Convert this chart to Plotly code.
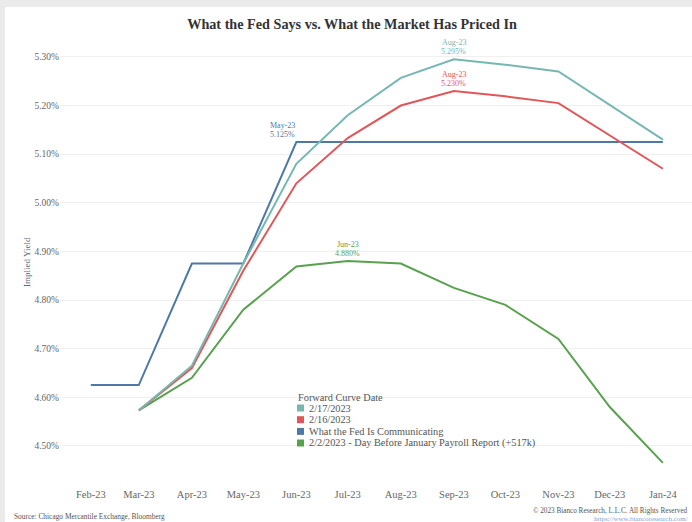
import plotly.graph_objects as go

# ---------------- data ----------------
months = ["2023-02-01", "2023-03-01", "2023-04-01", "2023-05-01", "2023-06-01", "2023-07-01",
          "2023-08-01", "2023-09-01", "2023-10-01", "2023-11-01", "2023-12-01", "2024-01-01"]
tick_labels = ["Feb-23", "Mar-23", "Apr-23", "May-23", "Jun-23", "Jul-23",
               "Aug-23", "Sep-23", "Oct-23", "Nov-23", "Dec-23", "Jan-24"]

fed_x = months
fed_y = [4.625, 4.625, 4.875, 4.875, 5.125, 5.125, 5.125, 5.125, 5.125, 5.125, 5.125, 5.125]

feb17_x = ["2023-03-01", "2023-04-01", "2023-05-01", "2023-06-01", "2023-07-01",
           "2023-08-01", "2023-09-01", "2023-10-01", "2023-11-01", "2024-01-01"]
feb17_y = [4.573, 4.665, 4.875, 5.080, 5.180, 5.257, 5.295, 5.284, 5.270, 5.130]

feb16_x = feb17_x
feb16_y = [4.573, 4.660, 4.860, 5.040, 5.133, 5.200, 5.230, 5.219, 5.205, 5.070]

feb2_x = months[1:]
feb2_y = [4.573, 4.640, 4.780, 4.869, 4.880, 4.875, 4.825, 4.790, 4.720, 4.580, 4.465]

series_names = ["2/17/2023", "2/16/2023", "What the Fed Is Communicating",
                "2/2/2023 - Day Before January Payroll Report (+517k)"]
colors = ["#76b7b2", "#e15759", "#4e79a7", "#59a14f"]

# point labels: (series index, x, y, month label)
point_labels = [
    (0, "2023-09-01", 5.295, "Aug-23"),
    (1, "2023-09-01", 5.230, "Aug-23"),
    (2, "2023-06-01", 5.125, "May-23"),
    (3, "2023-07-01", 4.880, "Jun-23"),
]

# ---------------- layout helpers ----------------
W, H = 692, 522
L, R, T, B = 60, 0, 45, 36
PW, PH = W - L - R, H - T - B


def px_x(px):
    return (px - L) / PW


def px_y(py):
    return (H - B - py) / PH


FONT = "Liberation Serif, Georgia, serif"

fig = go.Figure()
series = [(feb17_x, feb17_y), (feb16_x, feb16_y), (fed_x, fed_y), (feb2_x, feb2_y)]
draw_order = [2, 3, 1, 0]
for i in draw_order:
    xs, ys = series[i]
    fig.add_trace(go.Scatter(x=xs, y=ys, mode="lines", name=series_names[i],
                             line=dict(color=colors[i], width=2), showlegend=False))

annotations = []
for si, x, y, lab in point_labels:
    anchor = "right" if si == 2 else "center"
    xs = 1 if si == 2 else 0
    for txt, shift in ((lab, 16.5), (f"{y:.3f}%", 7.5)):
        annotations.append(dict(x=x, y=y, xref="x", yref="y", text=txt,
                                showarrow=False, xanchor=anchor, yanchor="middle", yshift=shift,
                                xshift=xs, font=dict(family=FONT, size=8, color=colors[si])))

# legend built by hand
annotations.append(dict(x=px_x(296), y=px_y(397), xref="paper", yref="paper",
                        text="Forward Curve Date", showarrow=False, xanchor="left",
                        yanchor="middle", font=dict(family=FONT, size=10.3, color="#555")))
shapes = []
row_y = [408, 419.7, 431.4, 443]
for k in range(4):
    annotations.append(dict(x=px_x(306.5), y=px_y(row_y[k]), xref="paper", yref="paper",
                            text=series_names[k], showarrow=False, xanchor="left",
                            yanchor="middle", font=dict(family=FONT, size=10.3, color="#555")))
    shapes.append(dict(type="rect", xref="paper", yref="paper",
                       x0=px_x(297), x1=px_x(304), y0=px_y(row_y[k] + 3.5), y1=px_y(row_y[k] - 3.5),
                       fillcolor=colors[k], line=dict(width=0)))

# y axis title
annotations.append(dict(x=px_x(20), y=px_y(262), xref="paper", yref="paper", text="Implied Yield",
                        showarrow=False, textangle=-90, font=dict(family=FONT, size=9, color="#666")))
# footer
annotations.append(dict(x=px_x(12), y=px_y(516), xref="paper", yref="paper",
                        text="Source: Chicago Mercantile Exchange, Bloomberg", showarrow=False,
                        xanchor="left", yanchor="middle", font=dict(family=FONT, size=7.4, color="#555")))
annotations.append(dict(x=px_x(690), y=px_y(511), xref="paper", yref="paper",
                        text="© 2023 Bianco Research, L.L.C. All Rights Reserved", showarrow=False,
                        xanchor="right", yanchor="middle", font=dict(family=FONT, size=7.2, color="#555")))
annotations.append(dict(x=px_x(690), y=px_y(519), xref="paper", yref="paper",
                        text="https://www.biancoresearch.com/", showarrow=False,
                        xanchor="right", yanchor="middle", font=dict(family=FONT, size=7, color="#7aa6d6")))

# grey outer strips
shapes.append(dict(type="rect", xref="paper", yref="paper", x0=px_x(0), x1=px_x(5),
                   y0=px_y(H), y1=px_y(0), fillcolor="#ebebeb", line=dict(width=0), layer="below"))
shapes.append(dict(type="rect", xref="paper", yref="paper", x0=px_x(0), x1=px_x(W),
                   y0=px_y(7), y1=px_y(0), fillcolor="#ebebeb", line=dict(width=0), layer="below"))

fig.update_layout(
    width=W, height=H,
    margin=dict(l=L, r=R, t=T, b=B),
    paper_bgcolor="white", plot_bgcolor="white",
    title=dict(text="What the Fed Says vs. What the Market Has Priced In",
               x=352 / W, y=1 - 24 / H, xanchor="center", yanchor="middle",
               font=dict(family=FONT, size=14.2, color="#333", weight="bold")),
    xaxis=dict(type="date", range=["2023-01-14", "2024-01-18"], tickvals=months, ticktext=tick_labels,
               showgrid=False, zeroline=False, showline=False, ticks="",
               tickfont=dict(family=FONT, size=10.5, color="#666")),
    yaxis=dict(range=[4.4175, 5.3245], dtick=0.1, tick0=4.5, tickformat=".2f", ticksuffix="%",
               showgrid=True, gridcolor="#f0f0f0", gridwidth=1, zeroline=False, showline=False,
               ticks="", tickfont=dict(family=FONT, size=9.5, color="#666")),
    annotations=annotations, shapes=shapes, showlegend=False,
)

fig.write_html("out.html", config={"displayModeBar": False},
               post_script="document.body.style.margin='0';document.body.style.overflow='hidden';")
